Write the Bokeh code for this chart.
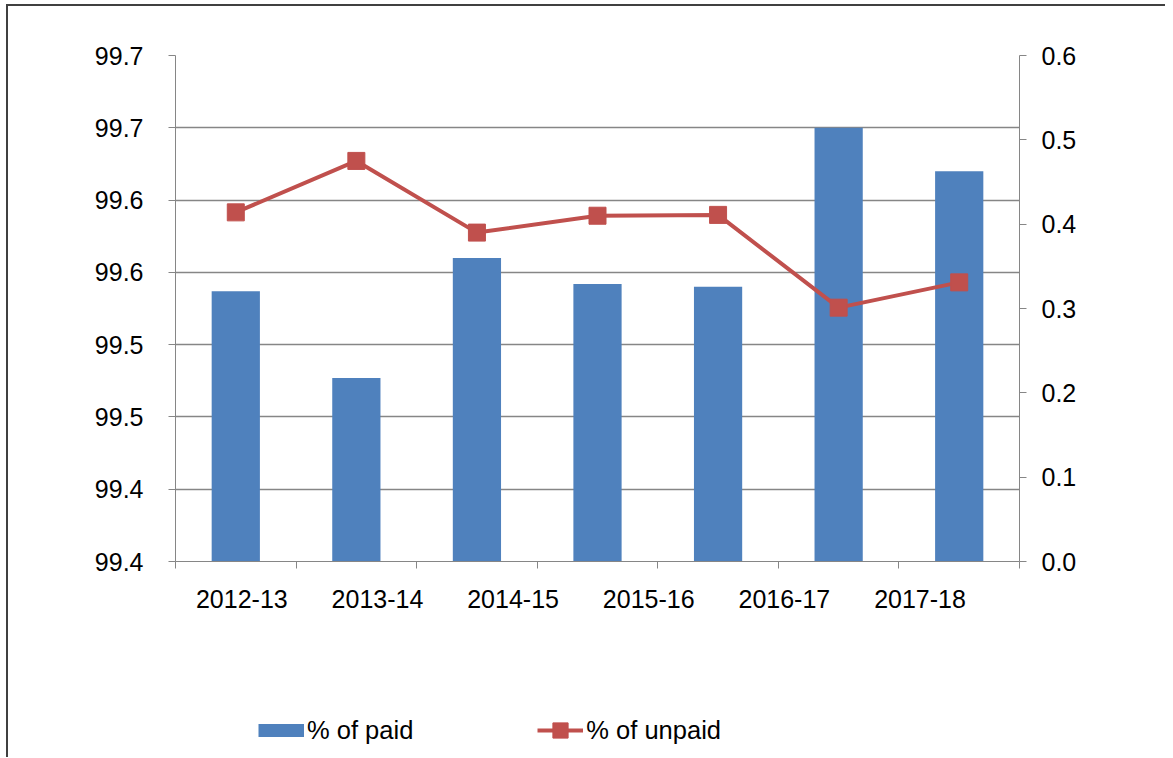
from bokeh.plotting import figure
from bokeh.layouts import column
from bokeh.models import (Range1d, LinearAxis, FixedTicker, Legend, LegendItem)
from bokeh.embed import file_html
from bokeh.resources import INLINE

# ---- data ----
year_labels = ["2012-13", "2013-14", "2014-15", "2015-16", "2016-17", "2017-18"]
paid_pct = [99.537, 99.477, 99.560, 99.542, 99.540, 99.650, 99.620]
unpaid_pct = [0.414, 0.475, 0.390, 0.410, 0.411, 0.301, 0.331]
left_tick_values = [99.35, 99.40, 99.45, 99.50, 99.55, 99.60, 99.65, 99.70]
left_tick_labels = ["99.4", "99.4", "99.5", "99.5", "99.6", "99.6", "99.7", "99.7"]
right_tick_values = [0.0, 0.1, 0.2, 0.3, 0.4, 0.5, 0.6]
right_tick_labels = ["0.0", "0.1", "0.2", "0.3", "0.4", "0.5", "0.6"]
series_names = ["% of paid", "% of unpaid"]

BLUE = "#4F81BD"
RED = "#C0504D"
AXIS = "#868686"
FONT = "Liberation Sans"

n = len(paid_pct)
xs = list(range(n))

p = figure(width=1157, height=615, output_backend="svg", toolbar_location=None,
           x_range=Range1d(-0.5, n - 0.5),
           y_range=Range1d(left_tick_values[0], left_tick_values[-1]),
           min_border_left=167, min_border_right=146, min_border_top=49,
           min_border_bottom=60, outline_line_color=None)
p.extra_y_ranges = {"right": Range1d(right_tick_values[0], right_tick_values[-1])}

# bars
p.vbar(x=xs, top=paid_pct, bottom=left_tick_values[0], width=0.4,
       fill_color=BLUE, line_color=None)
# line + markers
p.line(x=xs, y=unpaid_pct, y_range_name="right", line_color=RED, line_width=4)
p.scatter(x=xs, y=unpaid_pct, y_range_name="right", marker="square", size=17,
          fill_color=RED, line_color=RED)

# x axis
label_pos = [0.05 + 1.125 * i for i in range(len(year_labels))]
bounds = [i - 0.5 for i in range(n + 1)]
xa = p.xaxis[0]
xa.ticker = FixedTicker(ticks=label_pos, minor_ticks=bounds)
xa.major_label_overrides = {pos: lab for pos, lab in zip(label_pos, year_labels)}
xa.major_tick_line_color = None
xa.minor_tick_line_color = AXIS
xa.minor_tick_out = 7
xa.minor_tick_in = 0
xa.axis_line_color = AXIS
xa.major_label_text_font = FONT
xa.major_label_text_font_size = "25px"
xa.major_label_text_color = "#000000"
xa.major_label_standoff = 21
p.xgrid.visible = False

# left axis
ya = p.yaxis[0]
ya.ticker = FixedTicker(ticks=left_tick_values)
ya.major_label_overrides = {v: l for v, l in zip(left_tick_values, left_tick_labels)}
ya.minor_tick_line_color = None
ya.major_tick_out = 7
ya.major_tick_in = 0
ya.major_tick_line_color = AXIS
ya.axis_line_color = AXIS
ya.major_label_text_font = FONT
ya.major_label_text_font_size = "25px"
ya.major_label_text_color = "#000000"
ya.major_label_standoff = 25
p.ygrid.ticker = FixedTicker(ticks=left_tick_values)
p.ygrid.grid_line_color = AXIS
p.ygrid.grid_line_width = 1.3

# right axis
ra = LinearAxis(y_range_name="right", ticker=FixedTicker(ticks=right_tick_values))
ra.major_label_overrides = {v: l for v, l in zip(right_tick_values, right_tick_labels)}
ra.minor_tick_line_color = None
ra.major_tick_out = 7
ra.major_tick_in = 0
ra.major_tick_line_color = AXIS
ra.axis_line_color = AXIS
ra.major_label_text_font = FONT
ra.major_label_text_font_size = "25px"
ra.major_label_text_color = "#000000"
ra.major_label_standoff = 15
p.add_layout(ra, "right")

# ---- legend strip (hidden renderers only feed the legend glyphs) ----
lg = figure(width=1157, height=136, output_backend="svg", toolbar_location=None,
            x_axis_type=None, y_axis_type=None, min_border=0,
            outline_line_color=None, x_range=Range1d(-0.5, n - 0.5),
            y_range=Range1d(0, 1))
lg.grid.visible = False
r_paid = lg.line(x=xs, y=paid_pct, line_color=BLUE, line_width=13,
                 line_cap="butt", visible=False)
r_unpaid_line = lg.line(x=xs, y=unpaid_pct, line_color=RED, line_width=4, visible=False)
r_unpaid_mk = lg.scatter(x=xs, y=unpaid_pct, marker="square", fill_color=RED,
                         line_color=RED, visible=False)
leg = Legend(items=[LegendItem(label=series_names[0], renderers=[r_paid]),
                    LegendItem(label=series_names[1], renderers=[r_unpaid_line, r_unpaid_mk])],
             location=(83, 8), orientation="horizontal",
             glyph_width=46, glyph_height=38, label_standoff=3, spacing=124,
             padding=0, margin=0, border_line_color=None,
             background_fill_alpha=0, inactive_fill_alpha=0,
             label_text_font=FONT,
             label_text_font_size="25.5px", label_text_color="#000000")
lg.add_layout(leg, "center")

layout = column(p, lg, spacing=0)
layout.margin = (4, 0, 0, 6)
layout.styles = {"border-left": "2px solid #404040", "border-top": "2px solid #404040"}

open("out.html", "w").write(file_html(layout, INLINE))
